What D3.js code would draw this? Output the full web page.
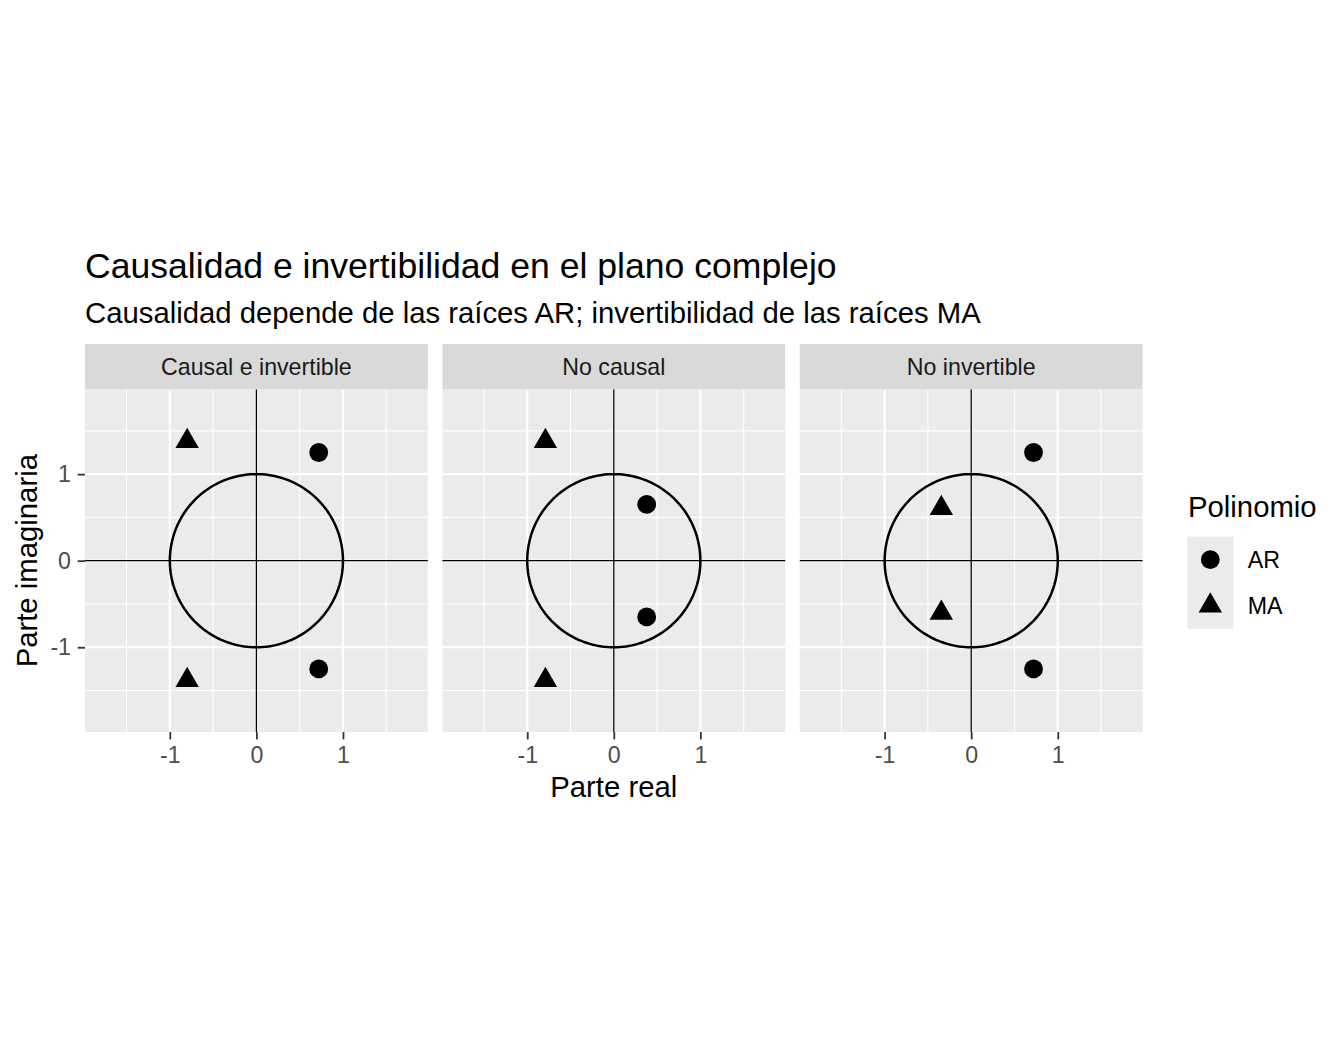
<!DOCTYPE html>
<html>
<head>
<meta charset="utf-8">
<script src="https://cdn.jsdelivr.net/npm/d3@7"></script>
<style>
body{margin:0;background:#fff;}
svg text{font-family:"Liberation Sans",Arial,sans-serif;}
</style>
</head>
<body>
<svg id="chart"></svg>
<script>
// datos: raices en el plano complejo
var paneles = ["Causal e invertible", "No causal", "No invertible"];
var panelPunto = ["Causal e invertible","Causal e invertible","Causal e invertible","Causal e invertible",
                  "No causal","No causal","No causal","No causal",
                  "No invertible","No invertible","No invertible","No invertible"];
var tipoPunto = ["AR","AR","MA","MA", "AR","AR","MA","MA", "AR","AR","MA","MA"];
var parteReal = [0.72, 0.72, -0.80, -0.80,  0.38, 0.38, -0.79, -0.79,  0.72, 0.72, -0.345, -0.345];
var parteImag = [1.25, -1.25, 1.38, -1.38,  0.65, -0.65, 1.38, -1.38,  1.25, -1.25, 0.605, -0.605];
var ticksMayor = [-1, 0, 1];
var ticksMenor = [-1.5, -0.5, 0.5, 1.5];
var leyenda = ["AR", "MA"];

var width = 1344, height = 1056;
var panelW = 342.8, gap = 14.6, left = 85;
var panelTop = 389.3, panelBottom = 732.1;
var lim = 1.98;

var svg = d3.select("#chart")
  .attr("width", width)
  .attr("height", height);

var yScale = d3.scaleLinear().domain([-lim, lim]).range([panelBottom, panelTop]);

var puntos = panelPunto.map(function(p, i){
  return {panel: p, tipo: tipoPunto[i], re: parteReal[i], im: parteImag[i]};
});

var triangulo = function(r){
  return "M0," + (-r) + "L" + (r*Math.sqrt(3)/2) + "," + (r/2) + "L" + (-r*Math.sqrt(3)/2) + "," + (r/2) + "Z";
};
var fmt = function(d){return String(d);};

// titulos
svg.append("text").attr("x", 85).attr("y", 277.7)
  .attr("font-size", 35.6).attr("fill", "#000")
  .text("Causalidad e invertibilidad en el plano complejo");
svg.append("text").attr("x", 85).attr("y", 323.3)
  .attr("font-size", 29.3).attr("fill", "#000")
  .text("Causalidad depende de las raíces AR; invertibilidad de las raíces MA");

paneles.forEach(function(nombre, k){
  var x0 = left + k*(panelW + gap);
  var xScale = d3.scaleLinear().domain([-lim, lim]).range([x0, x0 + panelW]);
  var g = svg.append("g");

  // fondo y grid
  g.append("rect").attr("x", x0).attr("y", panelTop).attr("width", panelW).attr("height", panelBottom - panelTop)
    .attr("fill", "#EBEBEB");
  g.selectAll(".vmin").data(ticksMenor).enter().append("line")
    .attr("x1", function(d){return xScale(d);}).attr("x2", function(d){return xScale(d);})
    .attr("y1", panelTop).attr("y2", panelBottom).attr("stroke", "#fff").attr("stroke-width", 1.1);
  g.selectAll(".hmin").data(ticksMenor).enter().append("line")
    .attr("y1", function(d){return yScale(d);}).attr("y2", function(d){return yScale(d);})
    .attr("x1", x0).attr("x2", x0 + panelW).attr("stroke", "#fff").attr("stroke-width", 1.1);
  g.selectAll(".vmaj").data(ticksMayor).enter().append("line")
    .attr("x1", function(d){return xScale(d);}).attr("x2", function(d){return xScale(d);})
    .attr("y1", panelTop).attr("y2", panelBottom).attr("stroke", "#fff").attr("stroke-width", 2.2);
  g.selectAll(".hmaj").data(ticksMayor).enter().append("line")
    .attr("y1", function(d){return yScale(d);}).attr("y2", function(d){return yScale(d);})
    .attr("x1", x0).attr("x2", x0 + panelW).attr("stroke", "#fff").attr("stroke-width", 2.2);

  // ejes en cero
  g.append("line").attr("x1", x0).attr("x2", x0 + panelW)
    .attr("y1", yScale(0)).attr("y2", yScale(0)).attr("stroke", "#000").attr("stroke-width", 1.3);
  g.append("line").attr("x1", xScale(0)).attr("x2", xScale(0))
    .attr("y1", panelTop).attr("y2", panelBottom).attr("stroke", "#000").attr("stroke-width", 1.3);

  // circulo unitario
  var angulos = d3.range(0, 361, 2);
  var linea = d3.line()
    .x(function(a){return xScale(Math.cos(a*Math.PI/180));})
    .y(function(a){return yScale(Math.sin(a*Math.PI/180));});
  g.append("path").datum(angulos).attr("d", linea)
    .attr("fill", "none").attr("stroke", "#000").attr("stroke-width", 2.5);

  // puntos
  var datos = puntos.filter(function(d){return d.panel === nombre;});
  g.selectAll(".ar").data(datos.filter(function(d){return d.tipo === "AR";})).enter()
    .append("circle")
    .attr("cx", function(d){return xScale(d.re);})
    .attr("cy", function(d){return yScale(d.im);})
    .attr("r", 9.4).attr("fill", "#000");
  g.selectAll(".ma").data(datos.filter(function(d){return d.tipo === "MA";})).enter()
    .append("path")
    .attr("d", triangulo(13.5))
    .attr("transform", function(d){return "translate(" + xScale(d.re) + "," + yScale(d.im) + ")";})
    .attr("fill", "#000");

  // strip
  g.append("rect").attr("x", x0).attr("y", 344).attr("width", panelW).attr("height", panelTop - 344)
    .attr("fill", "#D9D9D9");
  g.append("text").attr("x", x0 + panelW/2).attr("y", 375)
    .attr("text-anchor", "middle").attr("font-size", 23.2).attr("fill", "#1A1A1A")
    .text(nombre);

  // eje x
  var ejeX = g.append("g").attr("transform", "translate(0," + panelBottom + ")")
    .call(d3.axisBottom(xScale).tickValues(ticksMayor).tickFormat(fmt)
      .tickSize(7.3).tickPadding(7.4).tickSizeOuter(0));
  ejeX.select(".domain").remove();
  ejeX.selectAll("line").attr("stroke", "#333").attr("stroke-width", 1.8);
  ejeX.selectAll("text").attr("font-size", 23.2).attr("fill", "#4D4D4D")
    .attr("font-family", "Liberation Sans, Arial, sans-serif");
});

// eje y
var ejeY = svg.append("g").attr("transform", "translate(" + left + ",0)")
  .call(d3.axisLeft(yScale).tickValues(ticksMayor).tickFormat(fmt)
    .tickSize(7.3).tickPadding(6.7).tickSizeOuter(0));
ejeY.select(".domain").remove();
ejeY.selectAll("line").attr("stroke", "#333").attr("stroke-width", 1.8);
ejeY.selectAll("text").attr("font-size", 23.2).attr("fill", "#4D4D4D")
  .attr("font-family", "Liberation Sans, Arial, sans-serif");

// titulos de ejes
svg.append("text").attr("x", (left + left + 3*panelW + 2*gap)/2).attr("y", 797)
  .attr("text-anchor", "middle").attr("font-size", 29.3).attr("fill", "#000")
  .text("Parte real");
svg.append("text").attr("transform", "translate(37," + yScale(0) + ") rotate(-90)")
  .attr("text-anchor", "middle").attr("font-size", 29.3).attr("fill", "#000")
  .text("Parte imaginaria");

// leyenda
svg.append("text").attr("x", 1188).attr("y", 517.3)
  .attr("font-size", 29.3).attr("fill", "#000").text("Polinomio");
var claves = svg.selectAll(".clave").data(leyenda).enter().append("g")
  .attr("transform", function(d, i){return "translate(1187.3," + (536.7 + i*46) + ")";});
claves.append("rect").attr("width", 46).attr("height", 46).attr("fill", "#EBEBEB");
claves.filter(function(d){return d === "AR";}).append("circle")
  .attr("cx", 23).attr("cy", 23).attr("r", 9.4).attr("fill", "#000");
claves.filter(function(d){return d === "MA";}).append("path")
  .attr("d", triangulo(13.5)).attr("transform", "translate(23,23)").attr("fill", "#000");
claves.append("text").attr("x", 60.4).attr("y", 23 + 8.2)
  .attr("font-size", 23.2).attr("fill", "#000").text(function(d){return d;});
</script>
</body>
</html>
